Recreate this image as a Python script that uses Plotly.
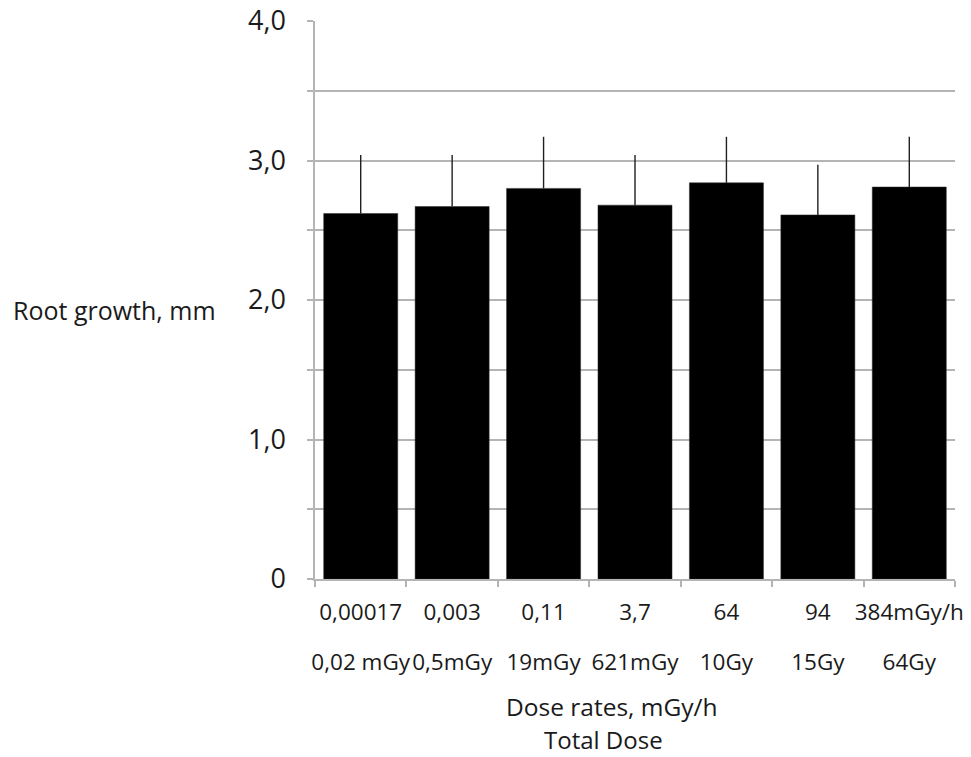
import plotly.graph_objects as go

dose_rates = ["0,00017", "0,003", "0,11", "3,7", "64", "94", "384mGy/h"]
total_doses = ["0,02 mGy", "0,5mGy", "19mGy", "621mGy", "10Gy", "15Gy", "64Gy"]
root_growth = [2.62, 2.67, 2.80, 2.68, 2.84, 2.61, 2.81]
error_plus = [0.42, 0.37, 0.37, 0.36, 0.33, 0.36, 0.36]

y_tickvals = [0, 0.5, 1, 1.5, 2, 2.5, 3, 3.5, 4]
y_ticktext = ["0", "", "1,0", "", "2,0", "", "3,0", "", "4,0"]

FONT = "Open Sans"
GRID = "#b4b4b4"
TXT = "#1a1a1a"

positions = list(range(len(dose_rates)))

fig = go.Figure()
fig.add_trace(go.Bar(
    x=positions,
    y=root_growth,
    marker=dict(color="black", line=dict(color="#303030", width=0.5)),
    width=0.81,
    error_y=dict(type="data", symmetric=False, array=error_plus,
                 arrayminus=[0] * len(error_plus),
                 color="#202020", thickness=1.4, width=0),
    showlegend=False,
    xaxis="x", yaxis="y",
))
# invisible carrier trace so the second category row (total dose) is drawn
fig.add_trace(go.Scatter(
    x=positions, y=[0] * len(positions), mode="markers",
    marker=dict(opacity=0), hoverinfo="skip", showlegend=False,
    xaxis="x2", yaxis="y",
))

fig.update_layout(
    width=971, height=757,
    margin=dict(l=315, r=16, t=21, b=178, autoexpand=False),
    paper_bgcolor="white", plot_bgcolor="white",
    font=dict(family=FONT, color=TXT),
    xaxis=dict(
        range=[-0.5, 6.5], automargin=False,
        tickmode="array", tickvals=positions, ticktext=dose_rates,
        ticks="", showgrid=False, tickangle=0,
        showline=True, linecolor=GRID, linewidth=1.5,
        tickfont=dict(size=22.5, family=FONT, color=TXT),
        ticklabelstandoff=12,
        minor=dict(tickmode="array",
                   tickvals=[p - 0.5 for p in positions] + [positions[-1] + 0.5],
                   ticks="outside", ticklen=6, tickcolor=GRID, tickwidth=1.5,
                   showgrid=False),
        zeroline=False, fixedrange=True,
    ),
    xaxis2=dict(
        overlaying="x", anchor="y", side="bottom", automargin=False,
        range=[-0.5, 6.5], tickangle=0,
        tickmode="array", tickvals=positions, ticktext=total_doses,
        ticks="", showgrid=False, showline=False, zeroline=False,
        tickfont=dict(size=22.5, family=FONT, color=TXT),
        ticklabelstandoff=67,
    ),
    yaxis=dict(
        range=[0, 4], automargin=False,
        tickmode="array", tickvals=y_tickvals, ticktext=y_ticktext,
        ticks="outside", ticklen=6, tickcolor=GRID, tickwidth=1.5,
        showgrid=True, gridcolor=GRID, gridwidth=1.5,
        showline=True, linecolor=GRID, linewidth=1.5,
        zeroline=False,
        tickfont=dict(size=27, family=FONT, color=TXT),
        ticklabelstandoff=16,
    ),
    annotations=[
        dict(text="Root growth, mm", xref="paper", yref="paper",
             x=-0.313, y=0.482, xanchor="center", yanchor="middle",
             showarrow=False, font=dict(size=25, family=FONT, color=TXT)),
        dict(text="Dose rates, mGy/h", xref="paper", yref="paper",
             x=0.464, y=-0.2276, xanchor="center", yanchor="middle",
             showarrow=False, font=dict(size=24.5, family=FONT, color=TXT)),
        dict(text="Total Dose", xref="paper", yref="paper",
             x=0.450, y=-0.2885, xanchor="center", yanchor="middle",
             showarrow=False, font=dict(size=24, family=FONT, color=TXT)),
    ],
)

fig.write_html("out.html")
